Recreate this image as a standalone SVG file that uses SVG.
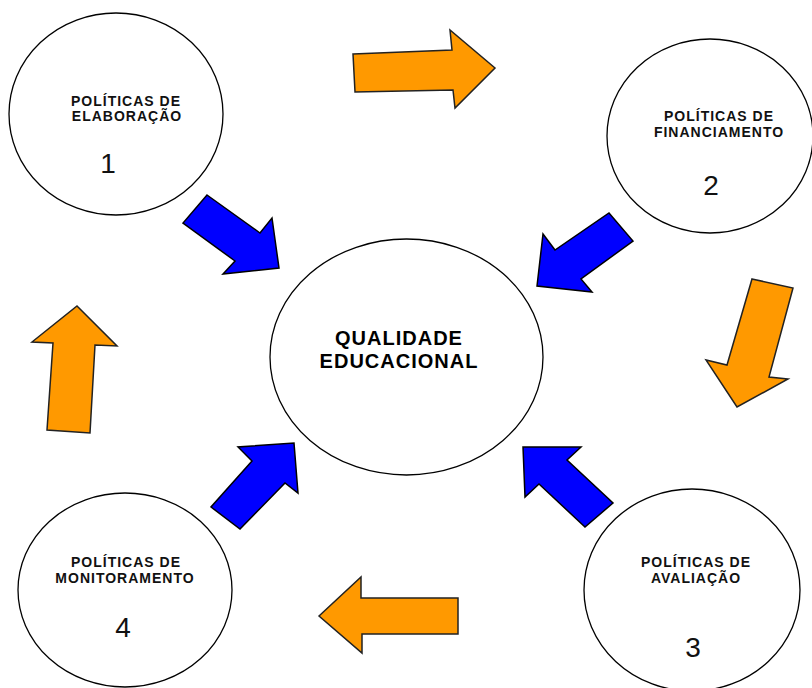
<svg xmlns="http://www.w3.org/2000/svg" width="812" height="688" viewBox="0 0 812 688">
<style>
.node ellipse{fill:#fff;stroke:#000;stroke-width:1.3}
.lbl{font-family:"Liberation Sans",Arial,sans-serif;font-weight:bold;font-size:14px;letter-spacing:1px;fill:#111;text-anchor:middle}
.big{font-family:"Liberation Sans",Arial,sans-serif;font-weight:bold;font-size:20px;letter-spacing:1px;fill:#000;text-anchor:middle}
.num{font-family:"Liberation Sans",Arial,sans-serif;font-size:28px;fill:#111;text-anchor:middle}
.blue{fill:#0000ff;stroke:#000;stroke-width:1.5;stroke-linejoin:miter}
.orange{fill:#ff9900;stroke:#222;stroke-width:1.5;stroke-linejoin:miter}
</style>
<rect width="812" height="688" fill="#fff"/>
<g id="node-center" class="node">
<ellipse cx="406.5" cy="357" rx="136.5" ry="118"/>
<text class="big" x="399" y="345">QUALIDADE</text>
<text class="big" x="399" y="368">EDUCACIONAL</text>
</g>
<g id="node-1" class="node">
<ellipse cx="116" cy="114" rx="107" ry="101"/>
<text class="lbl" x="126" y="106">POLÍTICAS DE</text>
<text class="lbl" x="127" y="121">ELABORAÇÃO</text>
<text class="num" x="108" y="173">1</text>
</g>
<g id="node-2" class="node">
<ellipse cx="710" cy="136" rx="103" ry="97"/>
<text class="lbl" x="719" y="121">POLÍTICAS DE</text>
<text class="lbl" x="719" y="137">FINANCIAMENTO</text>
<text class="num" x="711" y="195">2</text>
</g>
<g id="node-3" class="node">
<ellipse cx="692" cy="590" rx="108" ry="101"/>
<text class="lbl" x="696" y="567">POLÍTICAS DE</text>
<text class="lbl" x="696" y="583">AVALIAÇÃO</text>
<text class="num" x="693" y="657">3</text>
</g>
<g id="node-4" class="node">
<ellipse cx="125" cy="590" rx="107" ry="97"/>
<text class="lbl" x="126" y="567">POLÍTICAS DE</text>
<text class="lbl" x="125" y="583">MONITORAMENTO</text>
<text class="num" x="123" y="637">4</text>
</g>
<g id="connectors">
<polygon class="blue" points="207,195 260,233 272,218 279,268 223,274 235,261 183,223"/>
<polygon class="blue" points="609,213 633,241 581,279 592,292 537,286 543,234 555,250"/>
<polygon class="blue" points="294,443 298,493 285,483 240,529 211,507 252,461 238,447"/>
<polygon class="blue" points="523,447 581,447 567,460 613,503 585,527 539,484 525,497"/>
<polygon class="orange" points="353,54 452,50 450,30 495,68 455,108 453,90 355,92"/>
<polygon class="orange" points="752,279 793,288 769,377 788,379 737,407 706,360 727,365"/>
<polygon class="orange" points="77,306 117,346 95,345 90,433 47,430 53,343 32,342"/>
<polygon class="orange" points="319,616 361,577 361,598 458,598 458,634 362,634 362,653"/>
</g>
</svg>
